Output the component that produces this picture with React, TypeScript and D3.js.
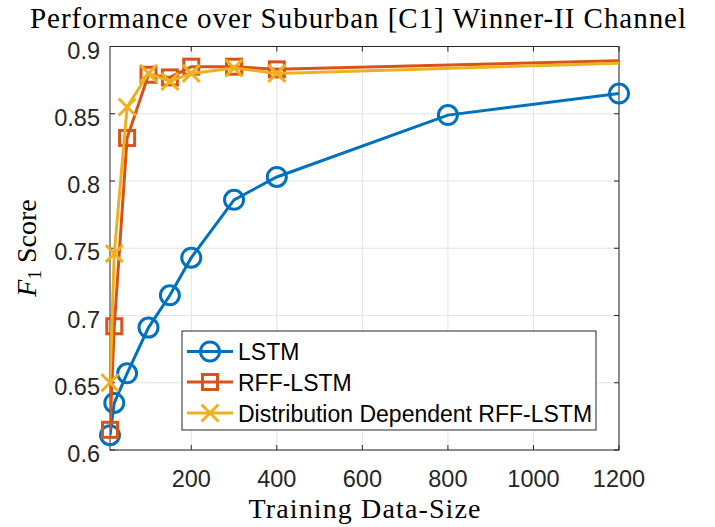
import React from "react";
import * as d3 from "d3";

const W = 715;
const H = 527;

const xValues = [10, 20, 50, 100, 150, 200, 300, 400, 800, 1200];
const lstmValues = [0.611, 0.635, 0.657, 0.691, 0.715, 0.743, 0.786, 0.803, 0.849, 0.865];

const rffX = [10, 20, 50, 100, 150, 200, 300, 400, 1200];
const rffValues = [0.615, 0.692, 0.832, 0.879, 0.877, 0.885, 0.885, 0.883, 0.8894];

const ddX = [10, 20, 50, 100, 150, 200, 300, 400, 1200];
const ddValues = [0.65, 0.746, 0.855, 0.88, 0.874, 0.88, 0.884, 0.88, 0.8875];

// markers are shown only for the measured points (the last point extends the line)
const rffMarkerCount = 8;
const ddMarkerCount = 8;

const xTicks = [200, 400, 600, 800, 1000, 1200];
const yTicks = [0.6, 0.65, 0.7, 0.75, 0.8, 0.85, 0.9];

const seriesNames = ["LSTM", "RFF-LSTM", "Distribution Dependent RFF-LSTM"];
const colors = ["#0072BD", "#D95319", "#EDB120"];

const left = 110;
const right = 619;
const top = 46.5;
const bottom = 450;

const x = d3.scaleLinear().domain([10, 1200]).range([left, right]);
const y = d3.scaleLinear().domain([0.6, 0.9]).range([bottom, top]);

const axisColor = "#262626";
const gridColor = "#e3e3e3";
const sansFont = "'Liberation Sans', Arial, Helvetica, sans-serif";
const serifFont = "'Liberation Serif', 'Times New Roman', serif";

function Circle({ cx, cy, color }: { cx: number; cy: number; color: string }) {
  return <circle cx={cx} cy={cy} r={9.5} fill="none" stroke={color} strokeWidth={3} />;
}
function Square({ cx, cy, color }: { cx: number; cy: number; color: string }) {
  const s = 7.5;
  return <rect x={cx - s} y={cy - s} width={2 * s} height={2 * s} fill="none" stroke={color} strokeWidth={3} />;
}
function Cross({ cx, cy, color }: { cx: number; cy: number; color: string }) {
  const s = 8.5;
  return (
    <path
      d={`M${cx - s},${cy - s}L${cx + s},${cy + s}M${cx - s},${cy + s}L${cx + s},${cy - s}`}
      stroke={color}
      strokeWidth={3}
      fill="none"
    />
  );
}

const markerComps = [Circle, Square, Cross];

export default function App() {
  const line = d3
    .line<[number, number]>()
    .x((d) => x(d[0]))
    .y((d) => y(d[1]));

  const series = [
    { xs: xValues, ys: lstmValues, mc: xValues.length },
    { xs: rffX, ys: rffValues, mc: rffMarkerCount },
    { xs: ddX, ys: ddValues, mc: ddMarkerCount },
  ];

  const tickLen = 5;
  const legend = { x0: 182, y0: 331, x1: 596, y1: 430, rows: [351.5, 382, 413] };

  return (
    <div style={{ position: "fixed", left: 0, top: 0, width: W, height: H, background: "#fff" }}>
      <svg width={W} height={H} viewBox={`0 0 ${W} ${H}`} style={{ display: "block" }}>
        <rect x={0} y={0} width={W} height={H} fill="#fff" />
        <defs>
          <clipPath id="plotClip">
            <rect x={left} y={top} width={right - left} height={bottom - top} />
          </clipPath>
        </defs>
        {/* grid */}
        {xTicks.map((t) => (
          <line key={"gx" + t} x1={x(t)} x2={x(t)} y1={top} y2={bottom} stroke={gridColor} strokeWidth={1} />
        ))}
        {yTicks.map((t) => (
          <line key={"gy" + t} x1={left} x2={right} y1={y(t)} y2={y(t)} stroke={gridColor} strokeWidth={1} />
        ))}
        {/* axes box */}
        <rect x={left} y={top} width={right - left} height={bottom - top} fill="none" stroke={axisColor} strokeWidth={1} />
        {xTicks.map((t) => (
          <g key={"tx" + t}>
            <line x1={x(t)} x2={x(t)} y1={bottom} y2={bottom - tickLen} stroke={axisColor} />
            <line x1={x(t)} x2={x(t)} y1={top} y2={top + tickLen} stroke={axisColor} />
            <text
              x={x(t)}
              y={487}
              textAnchor="middle"
              fontFamily={sansFont}
              fontSize={23.5}
              fill={axisColor}
            >
              {t}
            </text>
          </g>
        ))}
        {yTicks.map((t) => (
          <g key={"ty" + t}>
            <line x1={left} x2={left + tickLen} y1={y(t)} y2={y(t)} stroke={axisColor} />
            <line x1={right} x2={right - tickLen} y1={y(t)} y2={y(t)} stroke={axisColor} />
            <text
              x={100}
              y={y(t) + 12}
              textAnchor="end"
              fontFamily={sansFont}
              fontSize={23.5}
              fill={axisColor}
            >
              {String(t)}
            </text>
          </g>
        ))}
        {/* series */}
        {series.map((s, i) => {
          const pts: [number, number][] = s.xs.map((v, j) => [v, s.ys[j]]);
          const M = markerComps[i];
          return (
            <g key={"s" + i}>
              <path d={line(pts) || ""} fill="none" stroke={colors[i]} strokeWidth={3} clipPath="url(#plotClip)" />
              {pts.slice(0, s.mc).map((p, j) => (
                <M key={j} cx={x(p[0])} cy={y(p[1])} color={colors[i]} />
              ))}
            </g>
          );
        })}
        {/* legend */}
        <rect
          x={legend.x0}
          y={legend.y0}
          width={legend.x1 - legend.x0}
          height={legend.y1 - legend.y0}
          fill="#fff"
          stroke={axisColor}
          strokeWidth={1}
        />
        {seriesNames.map((name, i) => {
          const M = markerComps[i];
          const ry = legend.rows[i];
          return (
            <g key={"l" + i}>
              <line x1={187} x2={233} y1={ry} y2={ry} stroke={colors[i]} strokeWidth={3} />
              <M cx={210} cy={ry} color={colors[i]} />
              <text x={238} y={ry + 8.5} fontFamily={sansFont} fontSize={23} fill="#000">
                {name}
              </text>
            </g>
          );
        })}
        {/* title */}
        <text
          x={358}
          y={28}
          textAnchor="middle"
          fontFamily={serifFont}
          fontSize={29}
          fill="#000"
          textLength={656}
          lengthAdjust="spacing"
        >
          Performance over Suburban [C1] Winner-II Channel
        </text>
        {/* x label */}
        <text
          x={(left + right) / 2}
          y={518}
          textAnchor="middle"
          fontFamily={serifFont}
          fontSize={28}
          fill="#000"
          textLength={232}
          lengthAdjust="spacing"
        >
          Training Data-Size
        </text>
        {/* y label */}
        <text
          transform={`translate(36,248) rotate(-90)`}
          textAnchor="middle"
          fontFamily={serifFont}
          fontSize={28}
          fill="#000"
        >
          <tspan fontStyle="italic">F</tspan>
          <tspan fontSize={19} dy={5}>1</tspan>
          <tspan dy={-5}> Score</tspan>
        </text>
      </svg>
    </div>
  );
}
